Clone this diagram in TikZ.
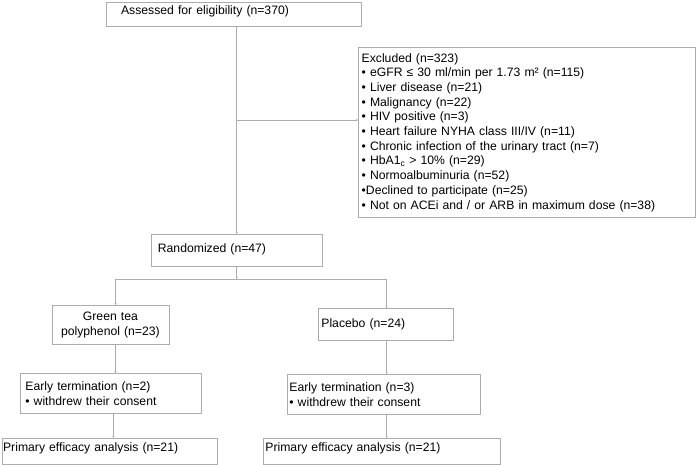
\documentclass[tikz,border=0pt]{standalone}
\usepackage{fontspec}
\setmainfont{Liberation Sans}
\usepackage{tikz}
\usetikzlibrary{arrows.meta,calc}
\definecolor{boxgray}{RGB}{172,172,172}
\tikzset{
  box/.style={draw=boxgray, line width=0.8pt, anchor=north west, align=left, inner ysep=0pt,
    font=\fontsize{12.2}{14.7}\selectfont},
  arr/.style={draw=boxgray, line width=0.8pt, -{Stealth[length=2pt,width=2pt]}},
  link/.style={draw=boxgray, line width=0.8pt}
}

\begin{document}
\begin{tikzpicture}[x=1pt,y=-1pt]
\useasboundingbox (0,0) rectangle (697,465);
\node[box, inner xsep=15pt, text width=225pt, text height=12pt, text depth=12.3pt] (asse) at (105.7,1.7) {Assessed for eligibility (n=370)};
\node[box, inner xsep=3.3pt, text width=330pt, minimum height=170pt] (excl) at (358,47)
 {Excluded (n=323)\\
  • eGFR ≤ 30 ml/min per 1.73 m² (n=115)\\
  • Liver disease (n=21)\\
  • Malignancy (n=22)\\
  • HIV positive (n=3)\\
  • Heart failure NYHA class III/IV (n=11)\\
  • Chronic infection of the urinary tract (n=7)\\
  • HbA1\textsubscript{c} > 10\% (n=29)\\
  • Normoalbuminuria (n=52)\\
  •Declined to participate (n=25)\\
  • Not on ACEi and / or ARB in maximum dose (n=38)};
\node[box, inner xsep=6.5pt, text width=157.5pt, text height=18.5pt, text depth=13.5pt] (rand) at (151,234) {Randomized (n=47)};
\node[box, align=center, inner xsep=2pt, text width=113pt, minimum height=39pt] (green) at (51.5,305) {Green tea\\ polyphenol (n=23)};
\node[box, inner xsep=3.5pt, text width=128.5pt, text height=18.5pt, text depth=13pt] (plac) at (317.5,308.5) {Placebo (n=24)};
\node[box, inner xsep=5pt, text width=171pt, minimum height=40pt] (earlyg) at (20,373) {Early termination (n=2)\\ • withdrew their consent};
\node[box, inner xsep=2pt, text width=189pt, minimum height=40pt] (earlyp) at (287,374) {Early termination (n=3)\\ • withdrew their consent};
\node[box, inner xsep=1pt, text width=213pt, text height=13pt, text depth=12.5pt] (primg) at (1.7,438) {Primary efficacy analysis (n=21)};
\node[box, inner xsep=2pt, text width=233pt, text height=13pt, text depth=12.5pt] (primp) at (263,438) {Primary efficacy analysis (n=21)};

\coordinate (split) at (236.7,120);
\coordinate (fork) at (236.7,279);
\coordinate (forkg) at (115.5,279);
\coordinate (forkp) at (386.7,279);

\draw[arr] (split |- asse.south) -- (split |- rand.north);
\draw[arr] (split) -- (split -| excl.west);
\draw[arr] (fork |- rand.south) -- (fork);
\draw[link] (forkg) -- (forkp);
\draw[arr] (forkg) -- (forkg |- green.north);
\draw[arr] (forkp) -- (forkp |- plac.north);
\draw[arr] (forkg |- green.south) -- (forkg |- earlyg.north);
\draw[arr] (forkp |- plac.south) -- (forkp |- earlyp.north);
\draw[arr] ($(forkg |- earlyg.south)+(-2.2,0)$) -- ($(forkg |- primg.north)+(-2.2,0)$);
\draw[arr] (forkp |- earlyp.south) -- (forkp |- primp.north);
\end{tikzpicture}
\end{document}
